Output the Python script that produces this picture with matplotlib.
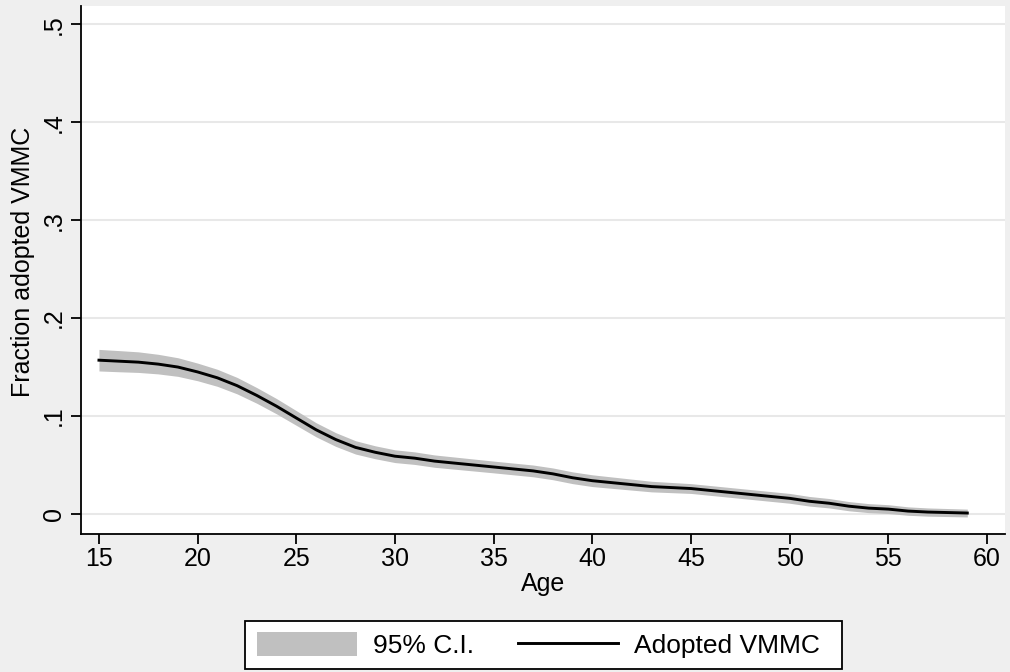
import matplotlib
matplotlib.use("Agg")
import matplotlib.pyplot as plt
from matplotlib.patches import Patch, Rectangle
from matplotlib.lines import Line2D
import numpy as np

plt.rcParams['font.family'] = ['Liberation Sans', 'DejaVu Sans']

ages = list(range(15, 60))
fraction = [0.157, 0.156, 0.155, 0.153, 0.150, 0.145, 0.139, 0.131, 0.121, 0.110,
            0.098, 0.086, 0.076, 0.068, 0.063, 0.059, 0.057, 0.054, 0.052, 0.050,
            0.048, 0.046, 0.044, 0.041, 0.037, 0.034, 0.032, 0.030, 0.028, 0.027,
            0.026, 0.024, 0.022, 0.020, 0.018, 0.016, 0.013, 0.011, 0.008, 0.006,
            0.005, 0.003, 0.002, 0.0015, 0.001]
ci_half = [0.011, 0.0108, 0.0105, 0.010, 0.0095, 0.009, 0.0087, 0.0084, 0.008, 0.0078,
           0.0075, 0.0072, 0.007, 0.0068, 0.0066, 0.0065, 0.0064, 0.0063, 0.0062, 0.0061,
           0.006, 0.006, 0.006, 0.006, 0.006, 0.006, 0.0058, 0.0056, 0.0054, 0.0052,
           0.005, 0.005, 0.005, 0.005, 0.005, 0.005, 0.0049, 0.0048, 0.0047, 0.0046,
           0.0045, 0.0043, 0.0042, 0.0041, 0.004]

xticks = [15, 20, 25, 30, 35, 40, 45, 50, 55, 60]
yticks = [0, 0.1, 0.2, 0.3, 0.4, 0.5]
yticklabels = ['0', '.1', '.2', '.3', '.4', '.5']

bg = '#efefef'
band = '#c0c0c0'

W, H = 1010, 672
fig = plt.figure(figsize=(W/100, H/100), dpi=100, facecolor=bg)
ax = fig.add_axes([81/W, 1-534/H, (1005-81)/W, (534-6)/H])
ax.set_facecolor('white')

a = np.array(ages, dtype=float)
f = np.array(fraction)
h = np.array(ci_half)
ax.fill_between(a, f - h, f + h, color=band, linewidth=0, zorder=2)
ax.plot(a, f, color='black', linewidth=2.1, zorder=3)

ax.set_xlim(14.09, 60.91)
ax.set_ylim(-0.0204, 0.5185)
ax.set_xticks(xticks)
ax.set_yticks(yticks)
ax.set_yticklabels(yticklabels, rotation=90, va='center')
ax.grid(axis='y', color='#e8e8e8', linewidth=1.5, zorder=0)
ax.set_axisbelow(True)

for s in ['top', 'right']:
    ax.spines[s].set_visible(False)
for s in ['left', 'bottom']:
    ax.spines[s].set_linewidth(1.3)
    ax.spines[s].set_color('black')

ax.tick_params(axis='both', direction='out', length=7.2, width=1.3, labelsize=18, colors='black')
ax.tick_params(axis='y', pad=3.6)
ax.tick_params(axis='x', pad=2.2)

ax.set_xlabel('Age', fontsize=18, labelpad=1)
ax.set_ylabel('Fraction adopted VMMC', fontsize=18, labelpad=3.5)
ax.yaxis.set_label_coords(-0.05, 0.515)

# legend frame (Stata-style, extra right padding)
frame = Rectangle((245/W, 1-669/H), (842-245)/W, (669-621)/H, transform=fig.transFigure,
                  facecolor='white', edgecolor='black', linewidth=1.3, zorder=1)
fig.patches.append(frame)

handles = [Patch(facecolor=band, edgecolor='none'),
           Line2D([0], [0], color='black', linewidth=2.1)]
leg = fig.legend(handles, ['95% C.I.', 'Adopted VMMC'], loc='center',
                 bbox_to_anchor=(538.5/W, 1-645/H), ncol=2, fontsize=19,
                 frameon=False,
                 handlelength=3.8, handleheight=1.06, columnspacing=1.67,
                 borderpad=0.0, handletextpad=0.6, borderaxespad=0.0)
leg.set_zorder(5)

fig.savefig('out.png', dpi=100, facecolor=bg)
